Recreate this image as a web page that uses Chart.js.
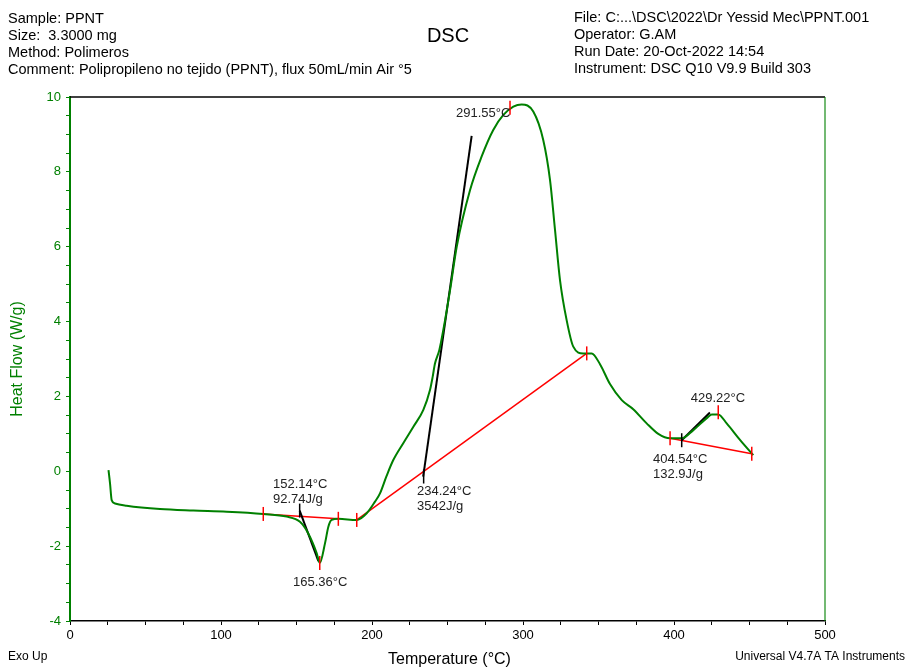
<!DOCTYPE html>
<html>
<head>
<meta charset="utf-8">
<script src="https://cdn.jsdelivr.net/npm/chart.js@4.4.1/dist/chart.umd.min.js"></script>
<style>
  html, body { margin: 0; padding: 0; background: #fff; }
  #wrap { width: 907px; height: 668px; }
</style>
</head>
<body>
<div id="wrap"><canvas id="dsc" width="907" height="668"></canvas></div>
<script>
// DSC trace
var temperature = [25.5, 26.5, 27.6, 29.8, 37.5, 59.6, 81.7, 103.8, 128.0, 143.5, 152.3, 157.8, 163.4, 165.4,
    168.9, 171.1, 173.3, 177.7, 189.9, 196.5, 202.0, 205.3, 209.6, 214.1, 220.7, 227.4, 234.0, 238.4, 240.2, 241.7,
    244.6, 247.2, 251.7, 256.1, 264.9, 272.5, 280.3, 287.0, 293.6, 299.1, 306.8, 313.4, 317.9, 321.2,
    324.5, 328.9, 333.3, 339.9, 345.5, 351.0, 357.6, 365.4, 373.0, 381.9, 389.6, 397.4, 405.1, 412.8,
    421.7, 425.0, 429.3, 434.9, 443.7, 452.5];
var heatFlow = [0.03, -0.32, -0.77, -0.86, -0.92, -1.01, -1.05, -1.08, -1.14, -1.21, -1.35, -1.66, -2.19, -2.45,
    -1.92, -1.48, -1.30, -1.27, -1.30, -1.12, -0.81, -0.59, -0.13, 0.30, 0.75, 1.19, 1.64, 2.17, 2.53, 2.88,
    3.24, 3.77, 4.84, 6.00, 7.51, 8.40, 9.12, 9.52, 9.74, 9.80, 9.61, 8.85, 7.78, 6.45,
    5.11, 4.04, 3.33, 3.15, 3.15, 2.86, 2.33, 1.90, 1.66, 1.28, 1.00, 0.88, 0.88, 1.10,
    1.42, 1.52, 1.52, 1.28, 0.84, 0.43];

var xTickLabels = [0, 100, 200, 300, 400, 500];
var yTickLabels = [-4, -2, 0, 2, 4, 6, 8, 10];

// analysis lines: baselines (red) and tangents (black)
var baselines = [
    [[128.0, -1.14], [177.7, -1.27]],
    [[189.9, -1.30], [342.2, 3.15]],
    [[397.4, 0.88], [451.5, 0.47]]
];
var tangents = [
    [[152.1, -1.05], [164.5, -2.40]],
    [[233.9, -0.14], [266.0, 8.96]],
    [[405.1, 0.83], [423.8, 1.57]]
];
var redMarks = [[128.0, -1.14], [177.7, -1.27], [165.4, -2.45], [189.9, -1.30], [342.2, 3.15],
    [291.4, 9.71], [397.4, 0.88], [429.3, 1.58], [451.5, 0.47]];
var blackMarks = [[152.1, -1.05], [234.2, -0.14], [405.1, 0.83]];

var notes = [
    { t: 134.4, hf: -0.34, lines: ['152.14°C', '92.74J/g'] },
    { t: 147.7, hf: -2.98, lines: ['165.36°C'] },
    { t: 229.8, hf: -0.55, lines: ['234.24°C', '3542J/g'] },
    { t: 255.6, hf: 9.56, lines: ['291.55°C'] },
    { t: 411.1, hf: 1.95, lines: ['429.22°C'] },
    { t: 386.1, hf: 0.33, lines: ['404.54°C', '132.9J/g'] }
];

var headerLeft = ['Sample: PPNT', 'Size:  3.3000 mg', 'Method: Polimeros',
    'Comment: Polipropileno no tejido (PPNT), flux 50mL/min Air °5'];
var headerRight = ['File: C:...\\DSC\\2022\\Dr Yessid Mec\\PPNT.001', 'Operator: G.AM',
    'Run Date: 20-Oct-2022 14:54', 'Instrument: DSC Q10 V9.9 Build 303'];

var GREEN = '#008000';
var FONT = '"Liberation Sans", Arial, sans-serif';

function toPoints(pairs) {
    return pairs.map(function (p) { return { x: p[0], y: p[1] }; });
}

var datasets = [{
    data: temperature.map(function (t, i) { return { x: t, y: heatFlow[i] }; }),
    borderColor: GREEN,
    borderWidth: 2,
    pointRadius: 0,
    cubicInterpolationMode: 'monotone',
    order: 0
}];
baselines.forEach(function (b) {
    datasets.push({ data: toPoints(b), borderColor: '#ff0000', borderWidth: 1.5, pointRadius: 0, order: 2 });
});
tangents.forEach(function (b) {
    datasets.push({ data: toPoints(b), borderColor: '#000000', borderWidth: 2, pointRadius: 0, order: 1 });
});

var decorations = {
    id: 'decorations',
    beforeDraw: function (chart) {
        var ctx = chart.ctx;
        ctx.save();
        ctx.fillStyle = '#fff';
        ctx.fillRect(0, 0, chart.width, chart.height);
        ctx.restore();
    },
    afterDatasetsDraw: function (chart) {
        var ctx = chart.ctx, x = chart.scales.x, y = chart.scales.y, a = chart.chartArea;
        ctx.save();

        // frame: top black, right green
        ctx.lineWidth = 1.5;
        ctx.strokeStyle = '#000';
        ctx.beginPath(); ctx.moveTo(a.left, a.top); ctx.lineTo(a.right, a.top); ctx.stroke();
        ctx.strokeStyle = 'rgba(0,128,0,0.55)';
        ctx.lineWidth = 2;
        ctx.beginPath(); ctx.moveTo(a.right, a.top); ctx.lineTo(a.right, a.bottom); ctx.stroke();

        // marks on the curve
        function mark(p, color) {
            var px = x.getPixelForValue(p[0]), py = y.getPixelForValue(p[1]);
            ctx.strokeStyle = color;
            ctx.lineWidth = 1.5;
            ctx.beginPath(); ctx.moveTo(px, py - 7); ctx.lineTo(px, py + 7); ctx.stroke();
        }
        redMarks.forEach(function (p) { mark(p, '#ff0000'); });
        blackMarks.forEach(function (p) { mark(p, '#000'); });

        // notes
        ctx.fillStyle = '#222';
        ctx.font = '13px ' + FONT;
        ctx.textBaseline = 'middle';
        ctx.textAlign = 'left';
        notes.forEach(function (n) {
            var px = x.getPixelForValue(n.t), py = y.getPixelForValue(n.hf);
            n.lines.forEach(function (s, i) { ctx.fillText(s, px, py + i * 15); });
        });

        // header
        ctx.fillStyle = '#000';
        ctx.font = '14.5px ' + FONT;
        headerLeft.forEach(function (s, i) { ctx.fillText(s, 8, 19 + i * 17); });
        headerRight.forEach(function (s, i) { ctx.fillText(s, 574, 18 + i * 17); });
        ctx.font = '20px ' + FONT;
        ctx.textAlign = 'center';
        ctx.fillText('DSC', 448, 36);

        // axis titles
        ctx.font = '16px ' + FONT;
        ctx.fillText('Temperature (°C)', (a.left + a.right) / 2 + 2, 660);
        ctx.save();
        ctx.translate(18, (a.top + a.bottom) / 2);
        ctx.rotate(-Math.PI / 2);
        ctx.fillStyle = GREEN;
        ctx.fillText('Heat Flow (W/g)', 0, 0);
        ctx.restore();

        ctx.font = '12px ' + FONT;
        ctx.textAlign = 'left';
        ctx.fillText('Exo Up', 8, 657);
        ctx.textAlign = 'right';
        ctx.fillText('Universal V4.7A TA Instruments', 905, 657);
        ctx.restore();
    }
};

new Chart(document.getElementById('dsc'), {
    type: 'line',
    data: { datasets: datasets },
    options: {
        responsive: false,
        animation: false,
        layout: { padding: { top: 97, right: 82, left: 0, bottom: 0 } },
        plugins: { legend: { display: false }, tooltip: { enabled: false } },
        scales: {
            x: {
                type: 'linear',
                min: 0, max: 500,
                afterFit: function (s) { s.height = 47; },
                ticks: {
                    stepSize: 25, autoSkip: false, maxRotation: 0, padding: 3,
                    color: '#000', font: { family: FONT, size: 13 },
                    callback: function (v) { return xTickLabels.indexOf(v) >= 0 ? String(v) : ''; }
                },
                grid: { drawOnChartArea: false, tickLength: 4, color: '#000' },
                border: { color: '#000', width: 1.5 }
            },
            y: {
                min: -4, max: 10,
                afterFit: function (s) { s.width = 70; },
                ticks: {
                    stepSize: 0.5, autoSkip: false, padding: 5,
                    color: GREEN, font: { family: FONT, size: 13 },
                    callback: function (v) { return yTickLabels.indexOf(v) >= 0 ? String(v) : ''; }
                },
                grid: { drawOnChartArea: false, tickLength: 4, color: GREEN },
                border: { color: GREEN, width: 2 }
            }
        }
    },
    plugins: [decorations]
});
</script>
</body>
</html>
